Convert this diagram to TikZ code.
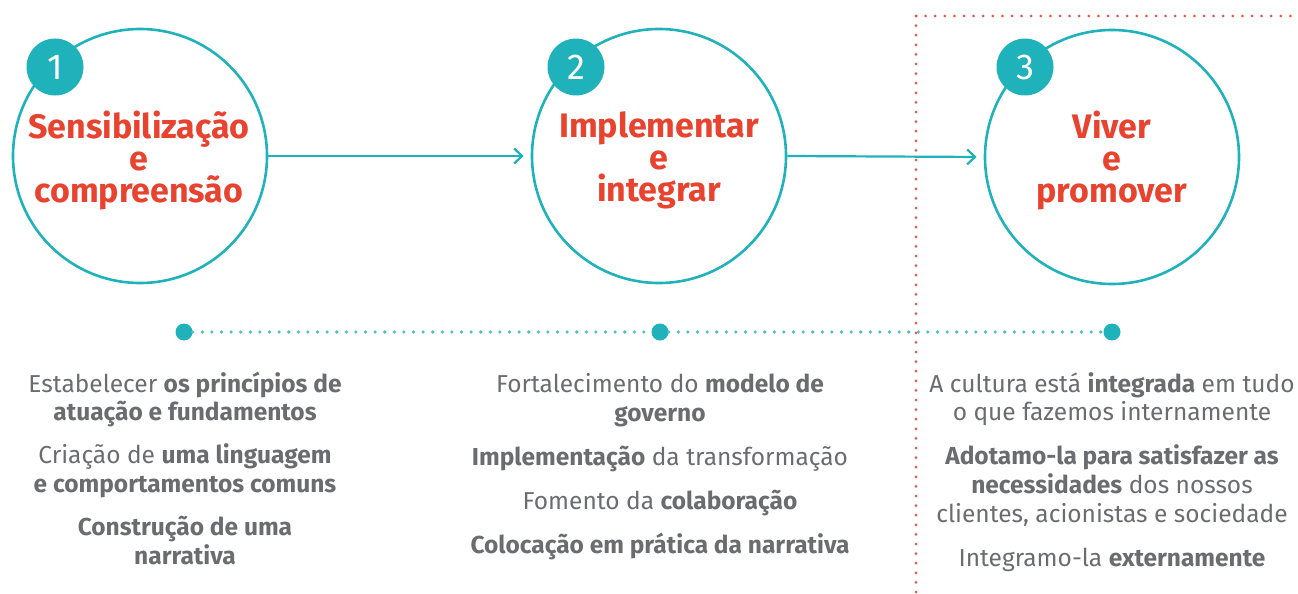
\documentclass[tikz,border=0pt]{standalone}
\usepackage{fontspec}
\setmainfont{Fira Sans}
\usetikzlibrary{arrows.meta}
\definecolor{teal1}{HTML}{1FB2BA}
\definecolor{red1}{HTML}{E8432F}
\definecolor{txt}{HTML}{6B6C6F}
\tikzset{
  bigcircle/.style={circle, draw=teal1, line width=2.6pt, minimum size=254pt, inner sep=0pt},
  badge/.style={circle, fill=teal1, minimum size=57pt, inner sep=0pt, text=white, font=\fontsize{36}{36}\selectfont},
  title/.style={align=center, text=red1, inner sep=0pt, font=\fontsize{34}{32}\selectfont\bfseries},
  flowarrow/.style={draw=teal1, line width=2.2pt, -{Straight Barb[length=8pt,width=15pt,line width=2.2pt]}, shorten >=7pt},
  bigdot/.style={circle, fill=teal1, minimum size=17pt, inner sep=0pt},
  tealdots/.style={draw=teal1!80, line width=3.6pt, line cap=round, dash pattern=on 0pt off 9.6pt},
  reddots/.style={draw=red1!90, line width=3pt, line cap=round, dash pattern=on 0pt off 9.6pt},
  body/.style={align=center, text=txt, inner sep=0pt, font=\fontsize{24.5}{28.8}\selectfont}
}
\begin{document}
\begin{tikzpicture}[x=1pt,y=-1pt]
\useasboundingbox (0,0) rectangle (1298,594);
% big circles
\node[bigcircle] (c1) at (140,156) {};
\node[bigcircle] (c2) at (659,156) {};
\node[bigcircle] (c3) at (1112,157) {};
% titles
\node[title] (h1) at (139,160) {Sensibilização\\e\\compreensão};
\node[title] (h2) at (659,160) {Implementar\\e\\integrar};
\node[title] (h3) at (1112,160) {Viver\\e\\promover};
% badges
\node[badge] (b1) at (55,67) {1};
\node[badge] (b2) at (576,67) {2};
\node[badge] (b3) at (1025,67) {3};
% arrows
\draw[flowarrow] (c1.east) -- (c2.west);
\draw[flowarrow] (c2.east) -- (c3.west);
% timeline
\node[bigdot] (d1) at (184,332) {};
\node[bigdot] (d2) at (660,332) {};
\node[bigdot] (d3) at (1112,332) {};
\draw[tealdots] (d1) -- (d2);
\draw[tealdots] (d2) -- (d3);
% red dotted frame
\coordinate (r1) at (916,16);
\coordinate (r0) at (916,594);
\coordinate (r2) at (1298,16);
\draw[reddots] (r1) -- (r0);
\draw[reddots] (r1) -- (r2);
% texts (anchored at the baseline of their last line)
\node[body, anchor=base] (t1) at (185,564) {Estabelecer \textbf{os princípios de}\\\textbf{atuação e fundamentos}\\[14pt]Criação de \textbf{uma linguagem}\\\textbf{e comportamentos comuns}\\[14pt]\textbf{Construção de uma}\\\textbf{narrativa}};
\node[body, anchor=base] (t2) at (660,553) {Fortalecimento do \textbf{modelo de}\\\textbf{governo}\\[15pt]\textbf{Implementação} da transformação\\[15pt]Fomento da \textbf{colaboração}\\[15pt]\textbf{Colocação em prática da narrativa}};
\node[body, anchor=base] (t3) at (1112,566) {A cultura está \textbf{integrada} em tudo\\o que fazemos internamente\\[15pt]\textbf{Adotamo-la para satisfazer as}\\\textbf{necessidades} dos nossos\\clientes, acionistas e sociedade\\[15pt]Integramo-la \textbf{externamente}};
\end{tikzpicture}
\end{document}
